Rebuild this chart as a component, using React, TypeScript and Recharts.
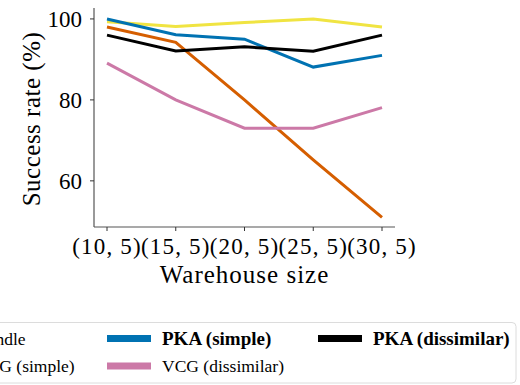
import React from 'react';
import { LineChart, Line, XAxis, YAxis } from 'recharts';

const categories = ['(10, 5)', '(15, 5)', '(20, 5)', '(25, 5)', '(30, 5)'];
const bundle = [98, 94.2, 80, 65.2, 51];
const vcgSimple = [99.3, 98.1, 99.1, 100, 98];
const pkaSimple = [100, 96.1, 95, 88.1, 91];
const vcgDissimilar = [89.1, 80, 73, 73, 78.1];
const pkaDissimilar = [96, 92.1, 93.1, 92, 96];
const yTicks = [60, 80, 100];

const FONT = '"Liberation Serif", "DejaVu Serif", serif';
const FRAME = '#555';

const series = [
  { key: 'bundle', name: 'Bundle', values: bundle, color: '#D55E00', bold: false },
  { key: 'vcgSimple', name: 'VCG (simple)', values: vcgSimple, color: '#F0E442', bold: false },
  { key: 'pkaSimple', name: 'PKA (simple)', values: pkaSimple, color: '#0072B2', bold: true },
  { key: 'vcgDissimilar', name: 'VCG (dissimilar)', values: vcgDissimilar, color: '#CC79A7', bold: false },
  { key: 'pkaDissimilar', name: 'PKA (dissimilar)', values: pkaDissimilar, color: '#000000', bold: true },
];

const data = categories.map((cat, i) => {
  const row: Record<string, string | number> = { cat };
  series.forEach((s) => {
    row[s.key] = s.values[i];
  });
  return row;
});

const XLabel = (props: any) => {
  const vb = props.viewBox;
  return (
    <text x={vb.x + vb.width / 2} y={vb.y + 56} textAnchor="middle" style={{ fontSize: 25, fontFamily: FONT, letterSpacing: 1 }} fill="#000">
      Warehouse size
    </text>
  );
};

const YLabel = (props: any) => {
  const vb = props.viewBox;
  const cx = 40;
  const cy = vb.y + 111;
  return (
    <text x={cx} y={cy} transform={`rotate(-90, ${cx}, ${cy})`} textAnchor="middle" style={{ fontSize: 25, fontFamily: FONT, letterSpacing: 0.5 }} fill="#000">
      Success rate (%)
    </text>
  );
};

const colLeft = [-80, 107, 318];
const rowCenter = [338.5, 366];

export default function App() {
  return (
    <div style={{ position: 'absolute', left: 0, top: 0, width: 520, height: 385, overflow: 'hidden', background: '#fff', fontFamily: FONT }}>
      <LineChart width={520} height={385} data={data} margin={{ top: 8, right: 125, bottom: 88, left: 0 }}>
        <XAxis
          xAxisId="b"
          dataKey="cat"
          height={70}
          padding={{ left: 13, right: 13 }}
          interval={0}
          tickSize={4}
          tickMargin={7}
          tickLine={{ stroke: '#333' }}
          axisLine={{ stroke: FRAME, strokeWidth: 1.2 }}
          tick={{ fontSize: 23, fill: '#000', fontFamily: FONT, letterSpacing: 1.2 }}
          label={<XLabel />}
        />
        <XAxis
          xAxisId="t"
          dataKey="cat"
          orientation="top"
          height={0}
          padding={{ left: 13, right: 13 }}
          tick={false}
          tickLine={false}
          axisLine={{ stroke: FRAME, strokeWidth: 1.2 }}
        />
        <YAxis
          yAxisId="l"
          width={94}
          type="number"
          domain={[48.6, 102.7]}
          ticks={yTicks}
          allowDataOverflow
          tickSize={4}
          tickMargin={8}
          tickLine={{ stroke: '#333' }}
          axisLine={{ stroke: FRAME, strokeWidth: 1.2 }}
          tick={{ fontSize: 23, fill: '#000', fontFamily: FONT }}
          label={<YLabel />}
        />
        <YAxis
          yAxisId="r"
          orientation="right"
          width={0}
          type="number"
          domain={[48.6, 102.7]}
          allowDataOverflow
          tick={false}
          tickLine={false}
          axisLine={{ stroke: FRAME, strokeWidth: 1.2 }}
        />
        {series.map((s) => (
          <Line
            key={s.key}
            xAxisId="b"
            yAxisId="l"
            type="linear"
            dataKey={s.key}
            name={s.name}
            stroke={s.color}
            strokeWidth={3}
            dot={false}
            activeDot={false}
            isAnimationActive={false}
          />
        ))}
      </LineChart>
      <svg width={520} height={385} style={{ position: 'absolute', left: 0, top: 0, pointerEvents: 'none' }}>
        <rect x={-150} y={322.5} width={666} height={60.5} rx={4} fill="#fff" stroke="#dcdcdc" strokeWidth={1} />
        {series.map((s, i) => {
          const col = Math.floor(i / 2);
          const row = i % 2;
          const x = colLeft[col];
          const cy = rowCenter[row];
          return (
            <g key={s.key}>
              <rect x={x} y={cy - 3.5} width={44} height={7} fill={s.color} />
              <text x={x + 55} y={cy + 6} style={{ fontSize: s.bold ? 19 : 17.5, fontWeight: s.bold ? 'bold' : 'normal', fontFamily: FONT }} fill="#000">
                {s.name}
              </text>
            </g>
          );
        })}
      </svg>
    </div>
  );
}
